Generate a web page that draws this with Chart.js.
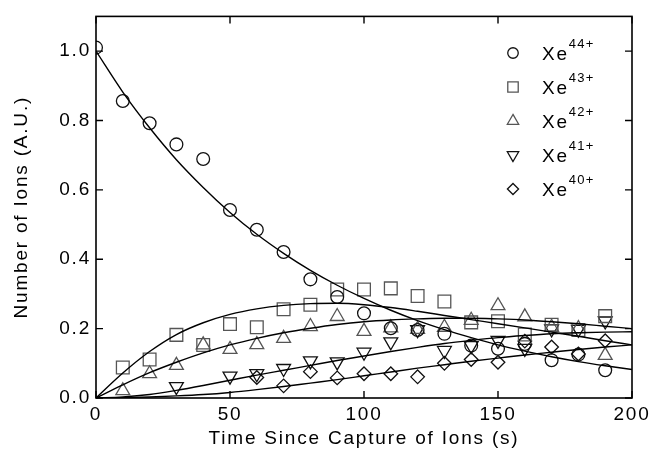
<!DOCTYPE html>
<html><head><meta charset="utf-8">
<script src="https://cdn.jsdelivr.net/npm/chart.js@4.4.0/dist/chart.umd.min.js"></script>
<style>html,body{margin:0;padding:0;background:#fff}</style>
</head><body>
<canvas id="c" width="663" height="466" style="width:663px;height:466px;display:block"></canvas>
<script>
// ---- data ----
const xTicks = [0, 50, 100, 150, 200];
const yTicks = [0, 0.2, 0.4, 0.6, 0.8, 1.0];
const ionLabels = ['44+', '43+', '42+', '41+', '40+'];

const t44 = [0,10,20,30,40,50,60,70,80,90,100,110,120,130,140,150,160,170,180,190];
const v44 = [1.01,0.856,0.792,0.731,0.689,0.542,0.485,0.421,0.342,0.291,0.244,0.201,0.196,0.185,0.151,0.142,0.156,0.109,0.125,0.080];

const t43 = [10,20,30,40,50,60,70,80,90,100,110,120,130,140,150,160,170,180,190];
const v43 = [0.088,0.111,0.182,0.153,0.213,0.204,0.256,0.269,0.313,0.313,0.316,0.294,0.278,0.218,0.221,0.183,0.211,0.196,0.236];

const t42 = [10,20,30,40,50,60,70,80,90,100,110,120,130,140,150,160,170,180,190];
const v42 = [0.021,0.070,0.094,0.153,0.140,0.154,0.172,0.206,0.235,0.192,0.202,0.198,0.204,0.224,0.266,0.234,0.204,0.200,0.123];

const t41 = [30,50,60,70,80,90,100,110,120,130,140,150,160,170,180,190];
const v41 = [0.033,0.063,0.070,0.085,0.107,0.104,0.132,0.162,0.197,0.137,0.151,0.166,0.143,0.199,0.198,0.222];

const t40 = [60,70,80,90,100,110,120,130,140,150,160,170,180,190];
const v40 = [0.059,0.035,0.076,0.058,0.070,0.070,0.061,0.100,0.111,0.103,0.164,0.147,0.127,0.165];

// fitted curves, every 10 s
const fitT = [0,10,20,30,40,50,60,70,80,90,100,110,120,130,140,150,160,170,180,190,200];
const fit44 = [1.0,0.882,0.779,0.687,0.607,0.535,0.472,0.417,0.368,0.325,0.287,0.253,0.223,0.197,0.174,0.153,0.135,0.119,0.105,0.093,0.082];
const fit43 = [0,0.072,0.134,0.183,0.217,0.241,0.257,0.267,0.272,0.273,0.269,0.261,0.250,0.238,0.226,0.214,0.202,0.190,0.178,0.165,0.153];
const fit42 = [0,0.038,0.073,0.103,0.130,0.153,0.172,0.188,0.201,0.212,0.220,0.225,0.228,0.230,0.230,0.228,0.225,0.220,0.214,0.207,0.200];
const fit41 = [0,0.003,0.010,0.022,0.036,0.051,0.066,0.080,0.094,0.108,0.121,0.134,0.146,0.157,0.166,0.174,0.180,0.185,0.188,0.190,0.191];
const fit40 = [0,0.001,0.003,0.006,0.010,0.016,0.024,0.033,0.043,0.053,0.064,0.075,0.086,0.096,0.106,0.115,0.124,0.132,0.140,0.147,0.153];

// ---- styling ----
const FONT = '"Liberation Sans", Arial, Helvetica, sans-serif';
const LS = '1.8px';
const BLACK = '#111';
const GREY = '#555';

const pts = (ts, vs) => ts.map((t, i) => ({x: t, y: vs[i]}));

const markers = [
  {style: 'circle', r: 6.4, color: BLACK, rot: 0},
  {style: 'rect', r: 9.0, color: GREY, rot: 0},
  {style: 'triangle', r: 8.0, color: GREY, rot: 0},
  {style: 'triangle', r: 8.0, color: BLACK, rot: 180},
  {style: 'rectRot', r: 6.8, color: BLACK, rot: 0}
];
const dataSets = [[t44, v44], [t43, v43], [t42, v42], [t41, v41], [t40, v40]];
const fits = [fit44, fit43, fit42, fit41, fit40];

const datasets = [];
fits.forEach((f, i) => {
  datasets.push({
    label: 'fit ' + ionLabels[i],
    data: pts(fitT, f),
    borderColor: '#000', borderWidth: 1.4,
    pointRadius: 0, showLine: true, fill: false,
    tension: 0.4, cubicInterpolationMode: 'monotone'
  });
});
dataSets.forEach((d, i) => {
  const m = markers[i];
  datasets.push({
    label: 'Xe' + ionLabels[i],
    data: pts(d[0], d[1]),
    showLine: false,
    pointStyle: m.style, pointRadius: m.r, pointRotation: m.rot,
    pointBorderColor: m.color, pointBackgroundColor: 'rgba(0,0,0,0)',
    pointBorderWidth: 1.3, borderColor: m.color, backgroundColor: 'rgba(0,0,0,0)'
  });
});

function drawMarker(ctx, m, x, y, scale) {
  const r = m.r * scale;
  ctx.beginPath();
  if (m.style === 'circle') {
    ctx.arc(x, y, r, 0, Math.PI * 2);
  } else if (m.style === 'rect') {
    const s = Math.SQRT1_2 * r;
    ctx.rect(x - s, y - s, 2 * s, 2 * s);
  } else if (m.style === 'triangle') {
    let a = m.rot * Math.PI / 180;
    for (let k = 0; k < 3; k++) {
      const px = x + Math.sin(a) * r, py = y - Math.cos(a) * r;
      if (k === 0) ctx.moveTo(px, py); else ctx.lineTo(px, py);
      a += 2 * Math.PI / 3;
    }
    ctx.closePath();
  } else {
    ctx.moveTo(x - r, y); ctx.lineTo(x, y - r); ctx.lineTo(x + r, y); ctx.lineTo(x, y + r);
    ctx.closePath();
  }
  ctx.strokeStyle = m.color;
  ctx.lineWidth = 1.3;
  ctx.stroke();
}

const framePlugin = {
  id: 'framePlugin',
  beforeDraw(chart) { chart.ctx.letterSpacing = LS; },
  afterDraw(chart) {
    const ctx = chart.ctx;
    const {left, right, top, bottom} = chart.chartArea;
    const xs = chart.scales.x, ys = chart.scales.y;
    ctx.save();
    ctx.strokeStyle = '#000';
    ctx.lineWidth = 1.6;
    ctx.strokeRect(left, top, right - left, bottom - top);
    ctx.lineWidth = 1.4;
    const TL = 7;
    ctx.beginPath();
    xTicks.forEach(v => {
      const px = xs.getPixelForValue(v);
      ctx.moveTo(px, bottom); ctx.lineTo(px, bottom - TL);
      ctx.moveTo(px, top); ctx.lineTo(px, top + TL);
    });
    yTicks.forEach(v => {
      const py = ys.getPixelForValue(v);
      ctx.moveTo(left, py); ctx.lineTo(left + TL, py);
      ctx.moveTo(right, py); ctx.lineTo(right - TL, py);
    });
    ctx.stroke();

    // legend
    const lx = 513, ly0 = 53, step = 34;
    ionLabels.forEach((lab, i) => {
      const y = ly0 + i * step;
      drawMarker(ctx, markers[i], lx, y, 0.82);
      ctx.fillStyle = '#000';
      ctx.letterSpacing = LS;
      ctx.textAlign = 'left';
      ctx.textBaseline = 'alphabetic';
      ctx.font = '19px ' + FONT;
      ctx.fillText('Xe', 542, y + 6.5);
      const w = ctx.measureText('Xe').width;
      ctx.font = '13px ' + FONT;
      ctx.letterSpacing = '1.2px';
      ctx.fillText(lab, 542 + w, y - 5.5);
    });
    ctx.restore();
  }
};

const tickFont = {family: FONT, size: 19};

new Chart(document.getElementById('c'), {
  type: 'line',
  data: {datasets},
  options: {
    responsive: false,
    devicePixelRatio: 1,
    animation: false,
    layout: {padding: {top: 13, right: 31, left: 0, bottom: 0}},
    plugins: {legend: {display: false}, tooltip: {enabled: false}},
    scales: {
      x: {
        type: 'linear', min: 0, max: 200,
        afterBuildTicks(s) { s.ticks = xTicks.map(v => ({value: v})); },
        ticks: {font: tickFont, color: '#000', padding: 5, maxRotation: 0, autoSkip: false,
          callback: v => String(v)},
        grid: {display: false, drawTicks: false},
        border: {display: false},
        title: {display: true, text: 'Time Since Capture of Ions (s)', font: tickFont, color: '#000',
          padding: {top: 0, bottom: 16}},
        afterFit(s) { s.height = 68; }
      },
      y: {
        type: 'linear', min: 0, max: 1.1,
        afterBuildTicks(s) { s.ticks = yTicks.map(v => ({value: v})); },
        ticks: {font: tickFont, color: '#000', padding: 5, autoSkip: false,
          callback: v => Number(v).toFixed(1)},
        grid: {display: false, drawTicks: false},
        border: {display: false},
        title: {display: true, text: 'Number of Ions (A.U.)', font: tickFont, color: '#000',
          padding: {top: 10, bottom: 0}},
        afterFit(s) { s.width = 96; }
      }
    }
  },
  plugins: [framePlugin]
});
</script>
</body></html>
